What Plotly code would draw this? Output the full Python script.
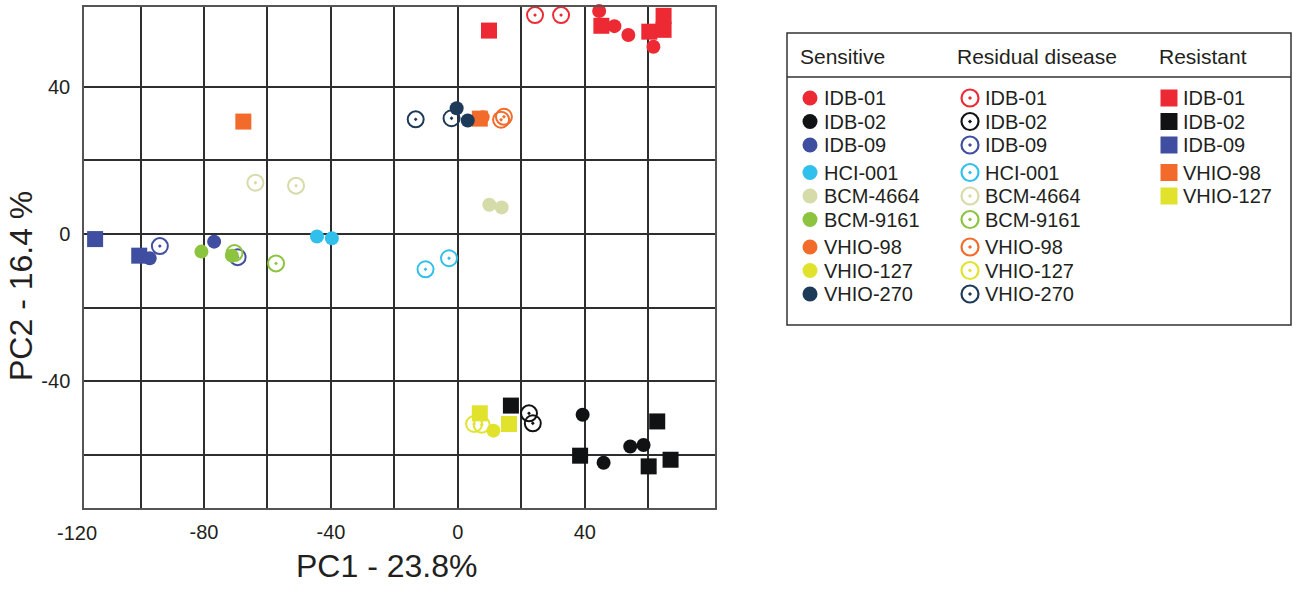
import plotly.graph_objects as go

W, H = 1293, 590

# ---------------- data ----------------
lines = ["IDB-01", "IDB-02", "IDB-09", "HCI-001", "BCM-4664", "BCM-9161",
         "VHIO-98", "VHIO-127", "VHIO-270"]
resistant_lines = ["IDB-01", "IDB-02", "IDB-09", "VHIO-98", "VHIO-127"]

colors = {
    "IDB-01": "#ED2A34", "IDB-02": "#111213", "IDB-09": "#3F4EA1",
    "HCI-001": "#31BFEC", "BCM-4664": "#D6DBAA", "BCM-9161": "#8CC43F",
    "VHIO-98": "#F26B2A", "VHIO-127": "#E1E22C", "VHIO-270": "#1D3A58",
}

sens_x = {
    "IDB-01": [44.5, 49.3, 53.7, 61.6], "IDB-02": [39.3, 45.9, 54.3, 58.5],
    "IDB-09": [-97.1, -76.8], "HCI-001": [-44.4, -39.7], "BCM-4664": [9.9, 13.8],
    "BCM-9161": [-80.8, -71.2], "VHIO-98": [7.8], "VHIO-127": [11.2],
    "VHIO-270": [-0.4, 3.1],
}
sens_y = {
    "IDB-01": [60.5, 56.4, 54.0, 50.8], "IDB-02": [-49.1, -62.1, -57.7, -57.3],
    "IDB-09": [-6.6, -2.1], "HCI-001": [-0.7, -1.2], "BCM-4664": [7.9, 7.2],
    "BCM-9161": [-4.8, -5.9], "VHIO-98": [31.7], "VHIO-127": [-53.4],
    "VHIO-270": [34.1, 30.8],
}
resid_x = {
    "IDB-01": [24.3, 32.5], "IDB-02": [22.4, 23.6], "IDB-09": [-93.9, -69.4],
    "HCI-001": [-10.2, -2.8], "BCM-4664": [-63.8, -51.0], "BCM-9161": [-70.4, -57.3],
    "VHIO-98": [13.6, 14.5], "VHIO-127": [5.1, 7.5], "VHIO-270": [-13.3, -2.0],
}
resid_y = {
    "IDB-01": [59.4, 59.4], "IDB-02": [-48.7, -51.4], "IDB-09": [-3.3, -6.3],
    "HCI-001": [-9.6, -6.6], "BCM-4664": [13.9, 13.1], "BCM-9161": [-5.2, -8.0],
    "VHIO-98": [31.0, 31.8], "VHIO-127": [-51.6, -51.8], "VHIO-270": [31.1, 31.4],
}
resist_x = {
    "IDB-01": [9.8, 45.2, 60.3, 64.8, 64.8], "IDB-02": [16.7, 38.5, 62.8, 60.1, 67.0],
    "IDB-09": [-114.3, -100.4], "VHIO-98": [-67.6, 6.9], "VHIO-127": [6.9, 16.1],
}
resist_y = {
    "IDB-01": [55.2, 56.5, 54.9, 59.2, 55.4], "IDB-02": [-46.6, -60.2, -50.9, -63.1, -61.3],
    "IDB-09": [-1.4, -5.9], "VHIO-98": [30.5, 31.3], "VHIO-127": [-48.7, -51.6],
}

x_grid = [-100, -80, -60, -40, -20, 0, 20, 40, 60]
x_labels = {-80: "-80", -40: "-40", 0: "0", 40: "40"}
x_outside_label = -120
y_grid = [-60, -40, -20, 0, 20, 40]
y_labels = {-40: "-40", 0: "0", 40: "40"}

group_titles = ["Sensitive", "Residual disease", "Resistant"]

# ---------------- figure ----------------
TXT = "#231F20"
FONT = "Arial, Liberation Sans, sans-serif"
X_DOMAIN = [84 / W, 715 / W]
X_RANGE = [-117.8, 81.0]
fig = go.Figure()

for ln in lines:
    fig.add_trace(go.Scatter(
        x=resid_x[ln], y=resid_y[ln], mode="markers", cliponaxis=False,
        marker=dict(symbol="circle-open-dot", size=16, color=colors[ln],
                    line=dict(width=2, color=colors[ln])), showlegend=False))
for ln in resistant_lines:
    fig.add_trace(go.Scatter(
        x=resist_x[ln], y=resist_y[ln], mode="markers", cliponaxis=False,
        marker=dict(symbol="square", size=16, color=colors[ln], line=dict(width=0)),
        showlegend=False))
for ln in lines:
    fig.add_trace(go.Scatter(
        x=sens_x[ln], y=sens_y[ln], mode="markers", cliponaxis=False,
        marker=dict(symbol="circle", size=14, color=colors[ln], line=dict(width=0)),
        showlegend=False))

# ---------------- custom legend (pixel-based helper axes) ----------------
col_marker_x = [810, 970, 1169]
col_text_x = [822, 983, 1181]
header_x = [798, 955, 1157]


def row_y(i):
    return 98 + i * 23.5 + (i // 3) * 4


annotations = []
for c, (title, hx) in enumerate(zip(group_titles, header_x)):
    annotations.append(dict(x=hx, y=56, xref="x2", yref="y2", text=title,
                            showarrow=False, xanchor="left", yanchor="middle",
                            font=dict(size=21, color=TXT, family=FONT)))

col_items = [lines, lines, resistant_lines]
col_symbols = ["circle", "circle-open-dot", "square"]
col_sizes = [15, 17, 17]
for c in range(3):
    items = col_items[c]
    fig.add_trace(go.Scatter(
        x=[col_marker_x[c]] * len(items), y=[row_y(i) for i in range(len(items))],
        xaxis="x2", yaxis="y2", mode="markers", showlegend=False, hoverinfo="skip",
        marker=dict(symbol=col_symbols[c], size=col_sizes[c],
                    color=[colors[k] for k in items],
                    line=dict(width=2.2 if c == 1 else 0,
                              color=[colors[k] for k in items]))))
    for i, k in enumerate(items):
        annotations.append(dict(x=col_text_x[c], y=row_y(i), xref="x2", yref="y2",
                                text=k, showarrow=False, xanchor="left",
                                yanchor="middle",
                                font=dict(size=20, color=TXT, family=FONT)))

# axis titles and the outside "-120" label
annotations.append(dict(x=386 / W, y=1 - 566 / H, xref="paper", yref="paper",
                        text="PC1 - 23.8%", showarrow=False, xanchor="center",
                        yanchor="middle", font=dict(size=32, color=TXT, family=FONT)))
annotations.append(dict(x=21 / W, y=1 - 286 / H, xref="paper", yref="paper",
                        text="PC2 - 16.4 %", showarrow=False, textangle=-90,
                        xanchor="center", yanchor="middle",
                        font=dict(size=32, color=TXT, family=FONT)))
lbl_px = X_DOMAIN[0] + (x_outside_label - X_RANGE[0]) / (X_RANGE[1] - X_RANGE[0]) * (
    X_DOMAIN[1] - X_DOMAIN[0])
annotations.append(dict(x=lbl_px, y=1 - 533 / H, xref="paper", yref="paper",
                        text=str(x_outside_label), showarrow=False, xanchor="center",
                        yanchor="middle", font=dict(size=20, color=TXT, family=FONT)))

shapes = [
    dict(type="rect", xref="x2", yref="y2", x0=787, x1=1291, y0=33, y1=325,
         line=dict(color="#333333", width=1.5), fillcolor="rgba(0,0,0,0)"),
    dict(type="line", xref="x2", yref="y2", x0=787, x1=1291, y0=77, y1=77,
         line=dict(color="#333333", width=1.5)),
]

GRID = "#2E2E2E"
fig.update_layout(
    width=W, height=H, margin=dict(l=0, r=0, t=0, b=0),
    paper_bgcolor="white", plot_bgcolor="white", showlegend=False,
    font=dict(family=FONT, color=TXT),
    xaxis=dict(domain=X_DOMAIN, range=X_RANGE,
               tickvals=x_grid, ticktext=[x_labels.get(v, "") for v in x_grid],
               showgrid=True, gridcolor=GRID, gridwidth=2, zeroline=False,
               showline=True, mirror=True, linecolor="#555555", linewidth=1.5,
               ticks="outside", ticklen=5, tickcolor="rgba(0,0,0,0)",
               tickfont=dict(size=20, color=TXT, family=FONT), fixedrange=True),
    yaxis=dict(domain=[1 - 508 / H, 1 - 7 / H], range=[-74.4, 61.6],
               tickvals=y_grid, ticktext=[y_labels.get(v, "") for v in y_grid],
               showgrid=True, gridcolor=GRID, gridwidth=2, zeroline=False,
               showline=True, mirror=True, linecolor="#555555", linewidth=1.5,
               ticks="outside", ticklen=8, tickcolor="rgba(0,0,0,0)",
               tickfont=dict(size=20, color=TXT, family=FONT), fixedrange=True),
    xaxis2=dict(domain=[740 / W, 1.0], range=[740, W], visible=False,
                anchor="y2", fixedrange=True),
    yaxis2=dict(domain=[0, 1], range=[H, 0], visible=False, anchor="x2",
                fixedrange=True),
    annotations=annotations, shapes=shapes,
)

fig.write_html("out.html", config={"displayModeBar": False},
               post_script="document.body.style.margin='0';document.body.style.overflow='hidden';")
